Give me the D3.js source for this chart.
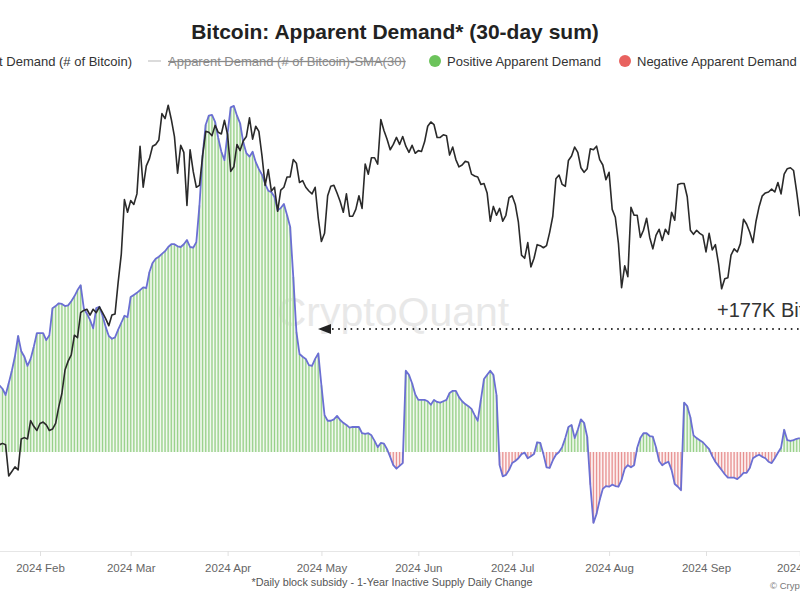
<!DOCTYPE html>
<html><head><meta charset="utf-8">
<script src="https://cdn.jsdelivr.net/npm/d3@7"></script>
<style>
body{margin:0;background:#fff}
svg{display:block}
text{font-family:"Liberation Sans",Arial,Helvetica,sans-serif}
</style>
</head><body>
<svg id="chart" width="800" height="600"></svg>
<script>
// ---- data ----
const startDate = "2024-01-19";
// Apparent Demand, 30-day sum, thousands of BTC (daily, Jan 19 .. Oct 1 2024)
const demandK = [
 96,91,82,99,117,138,167,145,137,124,134,151,171,
 171,171,161,168,207,210,214,213,210,211,217,224,233,240,207,199,190,178,207,209,196,180,167,163,165,176,186,196,194,
 223,226,229,233,237,236,259,272,278,281,285,289,295,299,299,296,295,299,305,295,294,302,355,427,471,484,485,475,452,432,420,
 459,496,498,484,473,446,430,425,432,417,407,399,386,376,374,367,348,351,357,341,324,252,173,141,137,134,125,124,134,142,
 96,53,45,45,47,52,46,42,39,35,36,36,36,27,26,27,24,16,7,13,12,4,-7,-19,-24,-20,-16,117,111,99,83,
 75,75,75,73,68,75,72,71,73,75,85,88,88,79,73,69,66,62,53,45,75,105,111,117,111,82,-19,-35,-33,-26,
 -16,-13,-9,-3,-1,-9,-6,-3,14,13,-3,-22,-23,-12,-4,0,7,20,36,39,20,32,47,42,22,-47,-102,-89,-69,-53,-49,
 -50,-47,-49,-50,-40,-24,-19,-22,-19,6,20,27,27,23,22,7,-13,-19,-16,-14,-26,-46,-50,-55,71,66,50,24,20,17,14,
 9,4,-6,-14,-20,-26,-32,-37,-37,-37,-39,-35,-30,-30,-23,-9,-6,-4,-7,-9,-14,-16,-9,-1,6,32,17,16,17,19,20
];
// BTC price, thousands of USD (daily close, Jan 19 .. Oct 1 2024)
const priceK = [
 41.6,41.7,41.6,39.5,39.8,40.1,39.9,42.0,42.1,42.0,43.3,42.9,42.6,
 43.1,43.2,43.0,42.6,42.7,43.1,44.3,45.3,47.1,47.8,48.3,49.9,49.7,51.8,52.0,52.1,51.6,52.1,51.8,52.3,51.8,51.3,50.7,51.6,51.7,54.5,57.1,62.5,61.2,
 62.4,62.0,63.1,68.3,63.8,66.1,66.9,68.3,68.5,69.0,72.1,71.5,73.1,71.4,69.4,65.3,68.4,67.6,61.9,67.9,65.5,63.8,64.0,67.2,70.0,69.9,69.5,70.7,69.9,69.7,71.3,
 69.6,65.5,66.0,68.5,67.8,68.9,69.4,71.6,69.1,70.6,70.0,67.2,64.0,65.7,63.4,63.8,61.3,63.5,63.8,64.9,64.9,66.8,66.4,64.3,64.5,63.8,63.4,63.1,63.8,60.6,
 58.3,59.1,62.9,63.9,64.0,63.2,62.3,61.2,63.1,60.8,60.8,61.5,62.9,61.6,66.3,65.2,67.0,67.0,66.3,71.4,70.1,69.1,67.9,68.5,69.3,68.5,69.4,68.3,67.6,68.4,67.5,
 67.8,67.7,68.8,70.6,71.1,70.8,69.3,69.3,69.6,69.5,67.3,68.2,66.8,66.0,66.2,66.6,66.5,65.2,65.0,64.9,64.1,64.2,63.2,60.3,61.8,60.9,61.6,60.3,60.9,62.7,
 62.9,62.0,60.2,57.0,56.7,58.2,55.9,56.7,58.0,57.9,57.7,57.9,59.2,60.8,64.7,65.1,64.1,63.9,66.7,67.2,68.2,67.6,65.9,65.4,65.8,68.0,67.9,68.3,66.8,66.2,64.6,
 65.4,61.5,60.7,58.1,54.0,56.0,55.0,61.7,60.9,60.9,58.7,59.4,60.6,58.7,57.6,58.9,59.5,58.4,59.5,59.0,61.2,60.4,64.1,64.2,64.2,62.8,59.4,59.0,59.4,59.1,58.9,
 57.3,59.1,57.5,58.0,56.2,53.9,54.8,54.9,57.0,57.6,57.3,58.1,60.5,60.0,59.2,58.2,60.3,61.8,62.9,63.2,63.3,63.6,63.3,64.3,63.1,65.2,65.8,65.9,65.6,63.3,
 60.8
];
const monthTicks = ["2024-02-01","2024-03-01","2024-04-01","2024-05-01","2024-06-01","2024-07-01","2024-08-01","2024-09-01","2024-10-01"];
const legendLabels = ["Apparent Demand (# of Bitcoin)","Apparent Demand (# of Bitcoin)-SMA(30)","Positive Apparent Demand","Negative Apparent Demand"];
const titleText = "Bitcoin: Apparent Demand* (30-day sum)";
const footnoteText = "*Daily block subsidy - 1-Year Inactive Supply Daily Change";
const annotationValue = 177;
const annotationText = "+177K Bitcoin";

// ---- scales ----
const svg = d3.select("#chart");
svg.append("rect").attr("width",800).attr("height",600).attr("fill","#fff");
const parse = s => new Date(s + "T00:00:00Z");
const dates = demandK.map((_, i) => d3.utcDay.offset(parse(startDate), i));
const x = d3.scaleUtc().domain([parse("2024-02-01"), parse("2024-09-01")]).range([40, 706]);
const yD = d3.scaleLinear().domain([0, annotationValue]).range([452, 329]);
const yP = d3.scaleLog().domain([39.5, 73.5]).range([476, 102]);

const C = {
  blue: "#6b6fd3", price: "#2a2a2a",
  posFill: "#d3ebcc", posLine: "#8fcd80",
  negFill: "#f7d8d8", negLine: "#e48585",
  posDot: "#6cc35b", negDot: "#e8625f"
};

// ---- x axis ----
const axisG = svg.append("g").attr("transform","translate(0,551)");
const xAxis = d3.axisBottom(x).tickValues(monthTicks.map(parse))
  .tickFormat(d3.utcFormat("%Y %b")).tickSize(5).tickPadding(8);
axisG.call(xAxis);
axisG.select(".domain").attr("stroke","#e6e6e6").attr("d","M-10,0.5H810");
axisG.selectAll(".tick line").attr("stroke","#e0e0e0");
axisG.selectAll(".tick text").attr("fill","#666").style("font-size","11.5px")
  .style("font-family","'Liberation Sans',Arial,sans-serif");

// ---- watermark ----
svg.append("text").attr("x",393).attr("y",326).attr("text-anchor","middle")
  .attr("fill","#e8e8e8").style("font-size","41px").text("CryptoQuant");

// ---- bars ----
const bw = 2.4;
const barG = svg.append("g");
barG.selectAll("rect").data(demandK).join("rect")
  .attr("x", (d,i) => x(dates[i]) - bw/2).attr("width", bw)
  .attr("y", d => yD(Math.max(0,d)))
  .attr("height", d => Math.abs(yD(d) - yD(0)))
  .attr("fill", d => d >= 0 ? C.posFill : C.negFill);
barG.selectAll("line").data(demandK).join("line")
  .attr("x1", (d,i) => x(dates[i])).attr("x2", (d,i) => x(dates[i]))
  .attr("y1", yD(0)).attr("y2", d => yD(d))
  .attr("stroke", d => d >= 0 ? C.posLine : C.negLine).attr("stroke-width", 0.9);

// ---- demand line ----
svg.append("path").datum(demandK)
  .attr("d", d3.line().x((d,i) => x(dates[i])).y(d => yD(d)))
  .attr("fill","none").attr("stroke",C.blue).attr("stroke-width",1.8).attr("stroke-linejoin","round");

// ---- price line ----
svg.append("path").datum(priceK)
  .attr("d", d3.line().x((d,i) => x(dates[i])).y(d => yP(d)))
  .attr("fill","none").attr("stroke",C.price).attr("stroke-width",1.6).attr("stroke-linejoin","round");

// ---- annotation ----
const ay = yD(annotationValue);
svg.append("line").attr("x1",332).attr("x2",805).attr("y1",ay).attr("y2",ay)
  .attr("stroke","#333").attr("stroke-width",2).attr("stroke-dasharray","1.6,4.6");
svg.append("path").attr("d",`M318,${ay}L331,${ay-5}L331,${ay+5}Z`).attr("fill","#222");
svg.append("text").attr("x",717).attr("y",ay-12).attr("fill","#333")
  .style("font-size","20px").text(annotationText);

// ---- title ----
svg.append("text").attr("x",395).attr("y",39).attr("text-anchor","middle")
  .attr("fill","#222").style("font-size","21px").style("font-weight","bold").text(titleText);

// ---- legend ----
const lg = svg.append("g").style("font-size","13px");
// item 1: text ends at 132 (marker off canvas)
lg.append("line").attr("x1",-60).attr("x2",-46).attr("y1",61).attr("y2",61).attr("stroke",C.blue).attr("stroke-width",2);
lg.append("text").attr("x",132).attr("y",65.5).attr("text-anchor","end").attr("fill","#333").text(legendLabels[0]);
// item 2: hidden series (struck through)
lg.append("line").attr("x1",148).attr("x2",161).attr("y1",61).attr("y2",61).attr("stroke","#cfcfcf").attr("stroke-width",1.5);
lg.append("text").attr("x",168).attr("y",65.5).attr("fill","#8a8a8a").style("text-decoration","line-through").text(legendLabels[1]);
// item 3/4: dots
lg.append("circle").attr("cx",435).attr("cy",61).attr("r",6).attr("fill",C.posDot);
lg.append("text").attr("x",447).attr("y",65.5).attr("fill","#333").text(legendLabels[2]);
lg.append("circle").attr("cx",625).attr("cy",61).attr("r",6).attr("fill",C.negDot);
lg.append("text").attr("x",637).attr("y",65.5).attr("fill","#333").text(legendLabels[3]);

// ---- footnote ----
svg.append("text").attr("x",392).attr("y",586).attr("text-anchor","middle")
  .attr("fill","#555").style("font-size","10.8px").text(footnoteText);
svg.append("text").attr("x",770).attr("y",589).attr("fill","#777")
  .style("font-size","9.5px").text("© CryptoQuant");
</script>
</body></html>
